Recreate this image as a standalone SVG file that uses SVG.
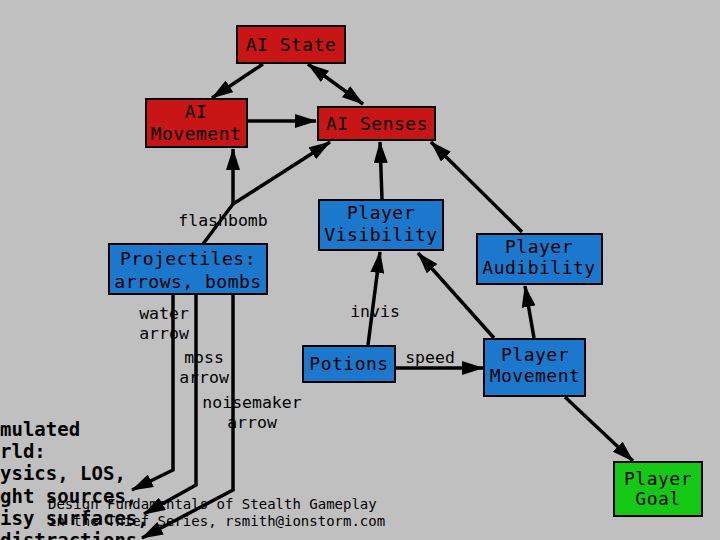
<svg xmlns="http://www.w3.org/2000/svg" width="720" height="540" viewBox="0 0 720 540">
<defs>
<marker id="ah" markerUnits="userSpaceOnUse" markerWidth="22" markerHeight="14" refX="21" refY="7" orient="auto-start-reverse" viewBox="0 0 22 14">
<path d="M0,0 L22,7 L0,14 z" fill="#000"/>
</marker>
<style>
.bg{fill:#c0c0c0}
.red{fill:#c81616;stroke:#000;stroke-width:2}
.blue{fill:#1b78cc;stroke:#000;stroke-width:2}
.green{fill:#16c816;stroke:#000;stroke-width:2}
.t{font-family:"DejaVu Sans Mono","Liberation Mono",monospace;font-size:18px;letter-spacing:0.5px;fill:#000;text-anchor:middle}
.lbl{font-family:"DejaVu Sans Mono","Liberation Mono",monospace;font-size:16.5px;fill:#000;text-anchor:middle}
.left{font-family:"DejaVu Sans Mono","Liberation Mono",monospace;font-size:19px;font-weight:bold;fill:#000}
.foot{font-family:"DejaVu Sans Mono","Liberation Mono",monospace;font-size:14px;fill:#000}
.e{fill:none;stroke:#000;stroke-width:3.5;stroke-linejoin:miter}
.ea{fill:none;stroke:#000;stroke-width:3.5;marker-end:url(#ah)}
</style>
</defs>
<rect class="bg" x="0" y="0" width="720" height="540"/>
<g id="simulated-world">
<text class="left" x="0" y="436">mulated</text>
<text class="left" x="0" y="458">rld:</text>
<text class="left" x="0" y="480">ysics, LOS,</text>
<text class="left" x="0" y="503">ght sources,</text>
<text class="left" x="0" y="525">isy surfaces,</text>
<text class="left" x="0" y="547">distractions</text>
</g>
<g id="connectors">
<path class="ea" d="M263,64 L212,98"/>
<path class="ea" d="M308,64 L363,104" style="marker-start:url(#ah)"/>
<path class="ea" d="M248,121 L316,121"/>
<path class="e" d="M203,244 L233,204"/>
<path class="ea" d="M233,204 L233,149"/>
<path class="ea" d="M233,204 L330,142"/>
<path class="ea" d="M382,199 L380,142"/>
<path class="ea" d="M522,232 L431,142"/>
<path class="ea" d="M368,345 L380,252"/>
<path class="ea" d="M396,368 L483,368"/>
<path class="ea" d="M494,338 L418,253"/>
<path class="ea" d="M534,338 L525,286"/>
<path class="ea" d="M565,397 L633,461"/>
<path class="ea" d="M173,295 L173,470 L132,490"/>
<path class="ea" d="M196,295 L196,485 L144,514"/>
<path class="ea" d="M233,295 L233,490 L142,538"/>
</g>
<g id="label-flashbomb"><text class="lbl" x="223" y="226">flashbomb</text></g>
<g id="label-water"><text class="lbl" x="164" y="319">water</text><text class="lbl" x="164" y="339">arrow</text></g>
<g id="label-moss"><text class="lbl" x="204" y="363">moss</text><text class="lbl" x="204" y="383">arrow</text></g>
<g id="label-noisemaker"><text class="lbl" x="252" y="408">noisemaker</text><text class="lbl" x="252" y="428">arrow</text></g>
<g id="label-invis"><text class="lbl" x="375" y="317">invis</text></g>
<g id="label-speed"><text class="lbl" x="430" y="363">speed</text></g>
<g id="ai-state"><rect class="red" x="237" y="26" width="108" height="37"/><text class="t" x="291" y="51">AI State</text></g>
<g id="ai-movement"><rect class="red" x="146" y="99" width="101" height="48"/><text class="t" x="196" y="118">AI</text><text class="t" x="196" y="140">Movement</text></g>
<g id="ai-senses"><rect class="red" x="318" y="107" width="117" height="33"/><text class="t" x="377" y="130">AI Senses</text></g>
<g id="player-visibility"><rect class="blue" x="319" y="200" width="124" height="50"/><text class="t" x="381" y="219">Player</text><text class="t" x="381" y="241">Visibility</text></g>
<g id="projectiles"><rect class="blue" x="109" y="244" width="158" height="50"/><text class="t" x="188" y="265">Projectiles:</text><text class="t" x="188" y="288">arrows, bombs</text></g>
<g id="player-audibility"><rect class="blue" x="477" y="234" width="125" height="50"/><text class="t" x="539" y="253">Player</text><text class="t" x="539" y="274">Audibility</text></g>
<g id="potions"><rect class="blue" x="303" y="346" width="92" height="36"/><text class="t" x="349" y="370">Potions</text></g>
<g id="player-movement"><rect class="blue" x="484" y="339" width="101" height="57"/><text class="t" x="535" y="361">Player</text><text class="t" x="535" y="382">Movement</text></g>
<g id="player-goal"><rect class="green" x="614" y="462" width="88" height="54"/><text class="t" x="658" y="485">Player</text><text class="t" x="658" y="505">Goal</text></g>
<g id="footer">
<text class="foot" x="48" y="509">Design Fundamentals of Stealth Gameplay</text>
<text class="foot" x="48" y="526">in the Thief Series, rsmith@ionstorm.com</text>
</g>
</svg>
